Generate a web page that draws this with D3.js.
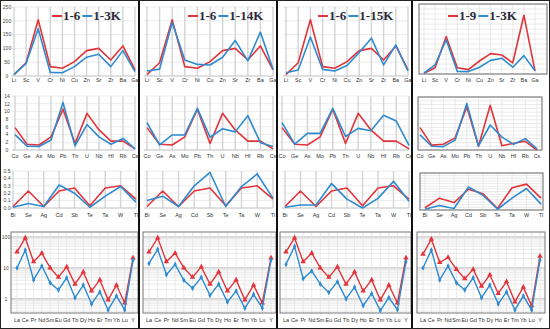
<!DOCTYPE html>
<html>
<head>
<meta charset="utf-8">
<script src="https://cdn.jsdelivr.net/npm/d3@7"></script>
<style>
body { margin: 0; background: #fff; }
svg { display: block; }
</style>
</head>
<body>
<div id="container"></div>
<script>
const width = 550;
const height = 329;

// element groups (x axis categories)
const major = ["Li", "Sc", "V", "Cr", "Ni", "Cu", "Zn", "Sr", "Zr", "Ba", "Ga"];
const trace = ["Co", "Ge", "As", "Mo", "Pb", "Th", "U", "Nb", "Hf", "Rb", "Cs"];
const minor = ["Bi", "Se", "Ag", "Cd", "Sb", "Te", "Ta", "W", "Tl"];
const ree = ["La", "Ce", "Pr", "Nd", "Sm", "Eu", "Gd", "Tb", "Dy", "Ho", "Er", "Tm", "Yb", "Lu", "Y"];

// sample 1-6
const s16_major = [5, 48, 204, 34, 28, 52, 92, 100, 58, 109, 22];
const s16_trace = [5.8, 1.5, 1.3, 3.4, 10.6, 1.7, 9.5, 5.2, 2.3, 2.3, 0.3];
const s16_minor = [0.02, 0.23, 0.02, 0.23, 0.27, 0.03, 0.27, 0.30, 0.12];
const s16_ree = [33, 93, 16, 30, 10, 5, 10.8, 3, 7.4, 1.8, 4.1, 0.93, 2.8, 0.74, 21];
// sample 1-3K
const s13K_major = [5, 46, 171, 13, 12, 34, 68, 79, 34, 92, 16];
const s13K_trace = [4.0, 1.0, 0.9, 2.6, 12.3, 1.1, 6.6, 3.4, 1.5, 3.0, 0.3];
const s13K_minor = [0.01, 0.06, 0.02, 0.31, 0.20, 0.01, 0.16, 0.29, 0.08];
const s13K_ree = [10, 38, 4.1, 11.6, 3.3, 1.95, 4.8, 1.08, 2.8, 0.69, 1.68, 0.44, 1.25, 0.44, 18];
// sample 1-14K
const s114K_major = [18, 25, 194, 58, 42, 40, 68, 129, 55, 159, 24];
const s114K_trace = [7.1, 1.3, 3.9, 3.9, 10.8, 3.3, 5.5, 4.7, 8.9, 1.9, 0.9];
const s114K_minor = [0.10, 0.16, 0.02, 0.30, 0.48, 0.02, 0.29, 0.46, 0.13];
const s114K_ree = [14, 40, 6, 13, 4, 2.2, 5, 1.3, 3, 0.8, 1.8, 0.5, 1.4, 0.5, 18];
// sample 1-15K
const s115K_major = [12, 22, 141, 24, 18, 38, 85, 137, 40, 113, 18];
const s115K_trace = [7.1, 1.5, 4.3, 4.3, 10.8, 3.5, 5.6, 5.0, 9.0, 7.5, 1.2];
const s115K_minor = [0.01, 0.04, 0.04, 0.33, 0.12, 0.0, 0.13, 0.36, 0.09];
const s115K_ree = [13, 50, 4.5, 8, 3, 1.6, 3.6, 1, 2.4, 0.6, 1.5, 0.42, 1.1, 0.45, 16];
// sample 1-9
const s19_major = [3, 31, 187, 31, 22, 65, 102, 95, 56, 294, 14];
const s19_trace = [5.9, 1.3, 1.5, 3.2, 11.4, 1.0, 11.8, 1.1, 1.8, 2.3, 0.0];
const s19_minor = [0.03, 0.16, 0.10, 0.28, 0.22, 0.02, 0.30, 0.35, 0.16];
const s19_ree = [28, 85, 15, 22, 9, 4.5, 9, 2.6, 6, 1.5, 3.6, 0.8, 2.4, 0.6, 24];

const legendNames = [["1-6", "1-3K"], ["1-6", "1-14K"], ["1-6", "1-15K"], ["1-9", "1-3K"]];

const red = "#e2343a";
const blue = "#2e8bd0";

let svg = d3.select("#container")
	.append("svg")
	.attr("width", width)
	.attr("height", height)
	.style("font-family", "Arial, 'Liberation Sans', sans-serif");

svg.append("rect")
	.attr("width", width).attr("height", height).attr("fill", "#fff");

// column layouts
const cols = [
	{ xs: [[14, 135], [15, 135], [13, 136], [17, 133]], ticks: true, box: false, legend: 52 },
	{ xs: [[147, 273], [147, 273], [147, 273], [149, 271]], ticks: false, box: false, legend: 188 },
	{ xs: [[286, 408], [282, 409], [285, 409], [286, 406]], ticks: false, box: false, legend: 318 },
	{ xs: [[424, 535], [420, 537], [425, 541], [423, 540]], ticks: false, box: true, legend: 448 }
];
const frames = [[419, 547], [418, 542], [420, 543]];

const columnData = [
	[s16_major, s13K_major, s16_trace, s13K_trace, s16_minor, s13K_minor, s16_ree, s13K_ree],
	[s16_major, s114K_major, s16_trace, s114K_trace, s16_minor, s114K_minor, s16_ree, s114K_ree],
	[s16_major, s115K_major, s16_trace, s115K_trace, s16_minor, s115K_minor, s16_ree, s115K_ree],
	[s19_major, s13K_major, s19_trace, s13K_trace, s19_minor, s13K_minor, s19_ree, s13K_ree]
];

// row settings: y pixel range, domain, label row
const rows = [
	{ cats: major, top: 7, bottom: 76, label: 82, domain: [0, 250], ticks: [0, 50, 100, 150, 200, 250] },
	{ cats: trace, top: 96, bottom: 150, label: 158, domain: [0, 14], ticks: [0, 2, 4, 6, 8, 10, 12, 14] },
	{ cats: minor, top: 171, bottom: 208, label: 217, domain: [0, 0.5], ticks: [0, 0.1, 0.2, 0.3, 0.4, 0.5] }
];

cols.forEach(function(col, ci) {
	let g = svg.append("g");
	rows.forEach(function(row, ri) {
		let dom = row.domain;
		let top = row.top, bottom = row.bottom;
		if (ci === 3 && ri === 0) { dom = [0, 350]; top = 4; bottom = 74; }
		if (ci === 3 && ri === 1) { top = 97; }
		if (ci === 3 && ri === 2) { top = 173; bottom = 210; }
		const x = d3.scalePoint().domain(row.cats).range(col.xs[ri]);
		const y = d3.scaleLinear().domain(dom).range([bottom, top]);

		let grid = g.append("g");
		if (col.box) {
			const f = frames[ri];
			const yy = d3.range(dom[0], dom[1] + 1e-9, (dom[1] - dom[0]) / 14);
			grid.selectAll(".h").data(yy).enter().append("line")
				.attr("x1", f[0]).attr("x2", f[1])
				.attr("y1", d => y(d)).attr("y2", d => y(d))
				.attr("stroke", "#e4e4e4").attr("stroke-width", 0.8);
			grid.selectAll(".v").data(row.cats).enter().append("line")
				.attr("x1", d => x(d)).attr("x2", d => x(d))
				.attr("y1", top).attr("y2", bottom)
				.attr("stroke", "#e4e4e4").attr("stroke-width", 0.8);
			grid.append("rect")
				.attr("x", f[0]).attr("y", top)
				.attr("width", f[1] - f[0]).attr("height", bottom - top)
				.attr("fill", "none").attr("stroke", "#8a8a8a").attr("stroke-width", 1.3);
		} else {
			grid.selectAll(".h").data(row.ticks).enter().append("line")
				.attr("x1", col.xs[ri][0] - 3).attr("x2", col.xs[ri][1])
				.attr("y1", d => y(d)).attr("y2", d => y(d))
				.attr("stroke", "#e6e6e6").attr("stroke-width", 0.8);
			grid.selectAll(".v").data(row.cats).enter().append("line")
				.attr("x1", d => x(d)).attr("x2", d => x(d))
				.attr("y1", top).attr("y2", bottom)
				.attr("stroke", "#d4d4d4").attr("stroke-width", 1.4);
			grid.append("line")
				.attr("x1", col.xs[ri][0] - 3).attr("x2", col.xs[ri][1])
				.attr("y1", bottom).attr("y2", bottom)
				.attr("stroke", "#bdbdbd").attr("stroke-width", 0.8);
		}

		if (col.ticks) {
			g.selectAll(null).data(row.ticks).enter().append("text")
				.attr("x", 7).attr("y", d => y(d) + 1.8)
				.attr("text-anchor", "middle")
				.attr("font-size", 5)
				.attr("fill", "#444")
				.text(d => ri === 2 ? d.toFixed(1) : d);
		}

		g.selectAll(null).data(row.cats).enter().append("text")
			.attr("x", d => x(d)).attr("y", row.label)
			.attr("text-anchor", "middle")
			.attr("font-size", 5.5)
			.attr("fill", "#333")
			.text(d => d);

		const line = d3.line().x((d, i) => x(row.cats[i])).y(d => y(d));
		[[columnData[ci][ri * 2], red], [columnData[ci][ri * 2 + 1], blue]].forEach(function(s) {
			g.append("path")
				.attr("d", line(s[0]))
				.attr("fill", "none")
				.attr("stroke", s[1])
				.attr("stroke-width", 1.6)
				.attr("stroke-linejoin", "round");
		});
	});

	// REE pattern, log scale
	const xr = col.xs[3];
	const x = d3.scalePoint().domain(ree).range(xr);
	const y = d3.scaleLog().domain([0.35, 145]).range([313, 232]);
	const fx0 = xr[0] - 6, fx1 = xr[1] + 5;
	let rg = g.append("g");
	let minorTicks = [];
	[0.1, 1, 10, 100].forEach(function(b) {
		for (let k = 1; k < 10; k++) {
			let v = b * k;
			if (v >= 0.35 && v <= 145) minorTicks.push(v);
		}
	});
	rg.selectAll(".h").data(minorTicks).enter().append("line")
		.attr("x1", fx0).attr("x2", fx1)
		.attr("y1", d => y(d)).attr("y2", d => y(d))
		.attr("stroke", d => [1, 10, 100].includes(d) ? "#9a9a9a" : "#e0e0e0")
		.attr("stroke-width", 0.7);
	rg.selectAll(".v").data(ree).enter().append("line")
		.attr("x1", d => x(d)).attr("x2", d => x(d))
		.attr("y1", 232).attr("y2", 313)
		.attr("stroke", "#e0e0e0").attr("stroke-width", 0.7);
	rg.append("rect")
		.attr("x", fx0).attr("y", 232)
		.attr("width", fx1 - fx0).attr("height", 81)
		.attr("fill", "none").attr("stroke", "#777").attr("stroke-width", 1);
	if (col.ticks) {
		g.selectAll(null).data([1, 10, 100]).enter().append("text")
			.attr("x", 6).attr("y", d => y(d) + 2)
			.attr("text-anchor", "middle")
			.attr("font-size", 5)
			.attr("fill", "#444")
			.text(d => d);
	}
	g.selectAll(null).data(ree).enter().append("text")
		.attr("x", d => x(d)).attr("y", 322)
		.attr("text-anchor", "middle")
		.attr("font-size", 5.5)
		.attr("fill", "#333")
		.text(d => d);
	const line = d3.line().x((d, i) => x(ree[i])).y(d => y(d));
	[[columnData[ci][6], red, d3.symbolTriangle, 13], [columnData[ci][7], blue, d3.symbolDiamond, 9]].forEach(function(s) {
		g.append("path")
			.attr("d", line(s[0]))
			.attr("fill", "none")
			.attr("stroke", s[1])
			.attr("stroke-width", 1.4);
		g.selectAll(null).data(s[0]).enter().append("path")
			.attr("transform", (d, i) => "translate(" + x(ree[i]) + "," + y(d) + ")")
			.attr("d", d3.symbol().type(s[2]).size(s[3]))
			.attr("fill", s[1]);
	});

	// legend
	const lx = col.legend;
	const names = legendNames[ci];
	const lg = svg.append("g").attr("font-family", "'Liberation Serif', 'DejaVu Serif', serif")
		.attr("font-weight", "bold").attr("font-size", 13).attr("fill", "#2a2a3a");
	lg.append("line").attr("x1", lx).attr("x2", lx + 10).attr("y1", 16).attr("y2", 16)
		.attr("stroke", red).attr("stroke-width", 2);
	const t1 = lg.append("text").attr("x", lx + 11).attr("y", 20).text(names[0]);
	const w1 = t1.node().getComputedTextLength();
	lg.append("line").attr("x1", lx + 13 + w1).attr("x2", lx + 23 + w1).attr("y1", 16).attr("y2", 16)
		.attr("stroke", blue).attr("stroke-width", 2);
	lg.append("text").attr("x", lx + 24 + w1).attr("y", 20).text(names[1]);
});

// column separators and outer frame
svg.selectAll(".sep").data([139, 277, 412]).enter().append("line")
	.attr("x1", d => d).attr("x2", d => d)
	.attr("y1", 0).attr("y2", height)
	.attr("stroke", "#111").attr("stroke-width", 2);
svg.append("rect")
	.attr("x", 0.5).attr("y", 0.5)
	.attr("width", width - 1).attr("height", height - 1)
	.attr("fill", "none").attr("stroke", "#222").attr("stroke-width", 1);
</script>
</body>
</html>
